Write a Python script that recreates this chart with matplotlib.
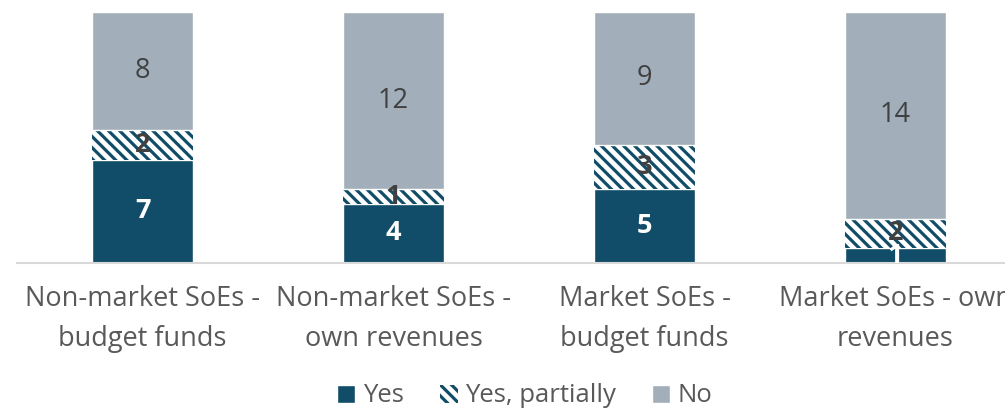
import numpy as np
import matplotlib.pyplot as plt

plt.rcParams['font.family'] = ['Open Sans', 'DejaVu Sans']
plt.rcParams['hatch.linewidth'] = 2.3

categories = ['Non-market SoEs -\nbudget funds', 'Non-market SoEs -\nown revenues',
              'Market SoEs -\nbudget funds', 'Market SoEs - own\nrevenues']
yes = [7, 4, 5, 1]
partial = [2, 1, 3, 2]
no = [8, 12, 9, 14]

dark = '#114D69'
grey = '#A2AFBA'

fig = plt.figure(figsize=(10.05, 4.08), dpi=100)
ax = fig.add_axes([17 / 1005, (408 - 263) / 408, 1004 / 1005, 251 / 408])

x = np.arange(len(categories))
w = 0.4
yes_a = np.array(yes)
par_a = np.array(partial)
no_a = np.array(no)

b1 = ax.bar(x, yes_a, w, color=dark, edgecolor='white', linewidth=1, label='Yes')
plt.rcParams['hatch.color'] = dark
b2 = ax.bar(x, par_a, w, bottom=yes_a, color='white', edgecolor=dark, hatch='\\\\\\',
            linewidth=0, label='Yes, partially')
b3 = ax.bar(x, no_a, w, bottom=yes_a + par_a, color=grey, edgecolor='white',
            linewidth=1, label='No')

fs = 19.5
for i in range(len(x)):
    ax.text(x[i], yes_a[i] / 2, str(yes[i]), ha='center', va='center',
            color='white', fontsize=fs, fontweight='bold')
    ax.text(x[i], yes_a[i] + par_a[i] / 2, str(partial[i]), ha='center', va='center',
            color='#404040', fontsize=fs, fontweight='bold')
    ax.text(x[i], yes_a[i] + par_a[i] + no_a[i] / 2, str(no[i]), ha='center',
            va='center', color='#404040', fontsize=fs)

ax.set_xlim(-0.5, 3.5)
ax.set_ylim(0, 17)
ax.set_yticks([])
ax.set_xticks(x)
ax.set_xticklabels(categories, fontsize=fs, color='#595959', linespacing=1.55)
ax.tick_params(axis='x', length=0, pad=16)
for s in ['top', 'right', 'left']:
    ax.spines[s].set_visible(False)
ax.spines['bottom'].set_color('#D9D9D9')
ax.spines['bottom'].set_linewidth(1.5)

fig.legend(handles=[b1, b2, b3], loc='center', bbox_to_anchor=(525 / 1005, 1 - 396 / 408),
           ncol=3, frameon=False, fontsize=18.5, labelcolor='#595959',
           handlelength=0.7, handleheight=0.7, handletextpad=0.3, columnspacing=1.4)

fig.savefig('out.png', dpi=100)
